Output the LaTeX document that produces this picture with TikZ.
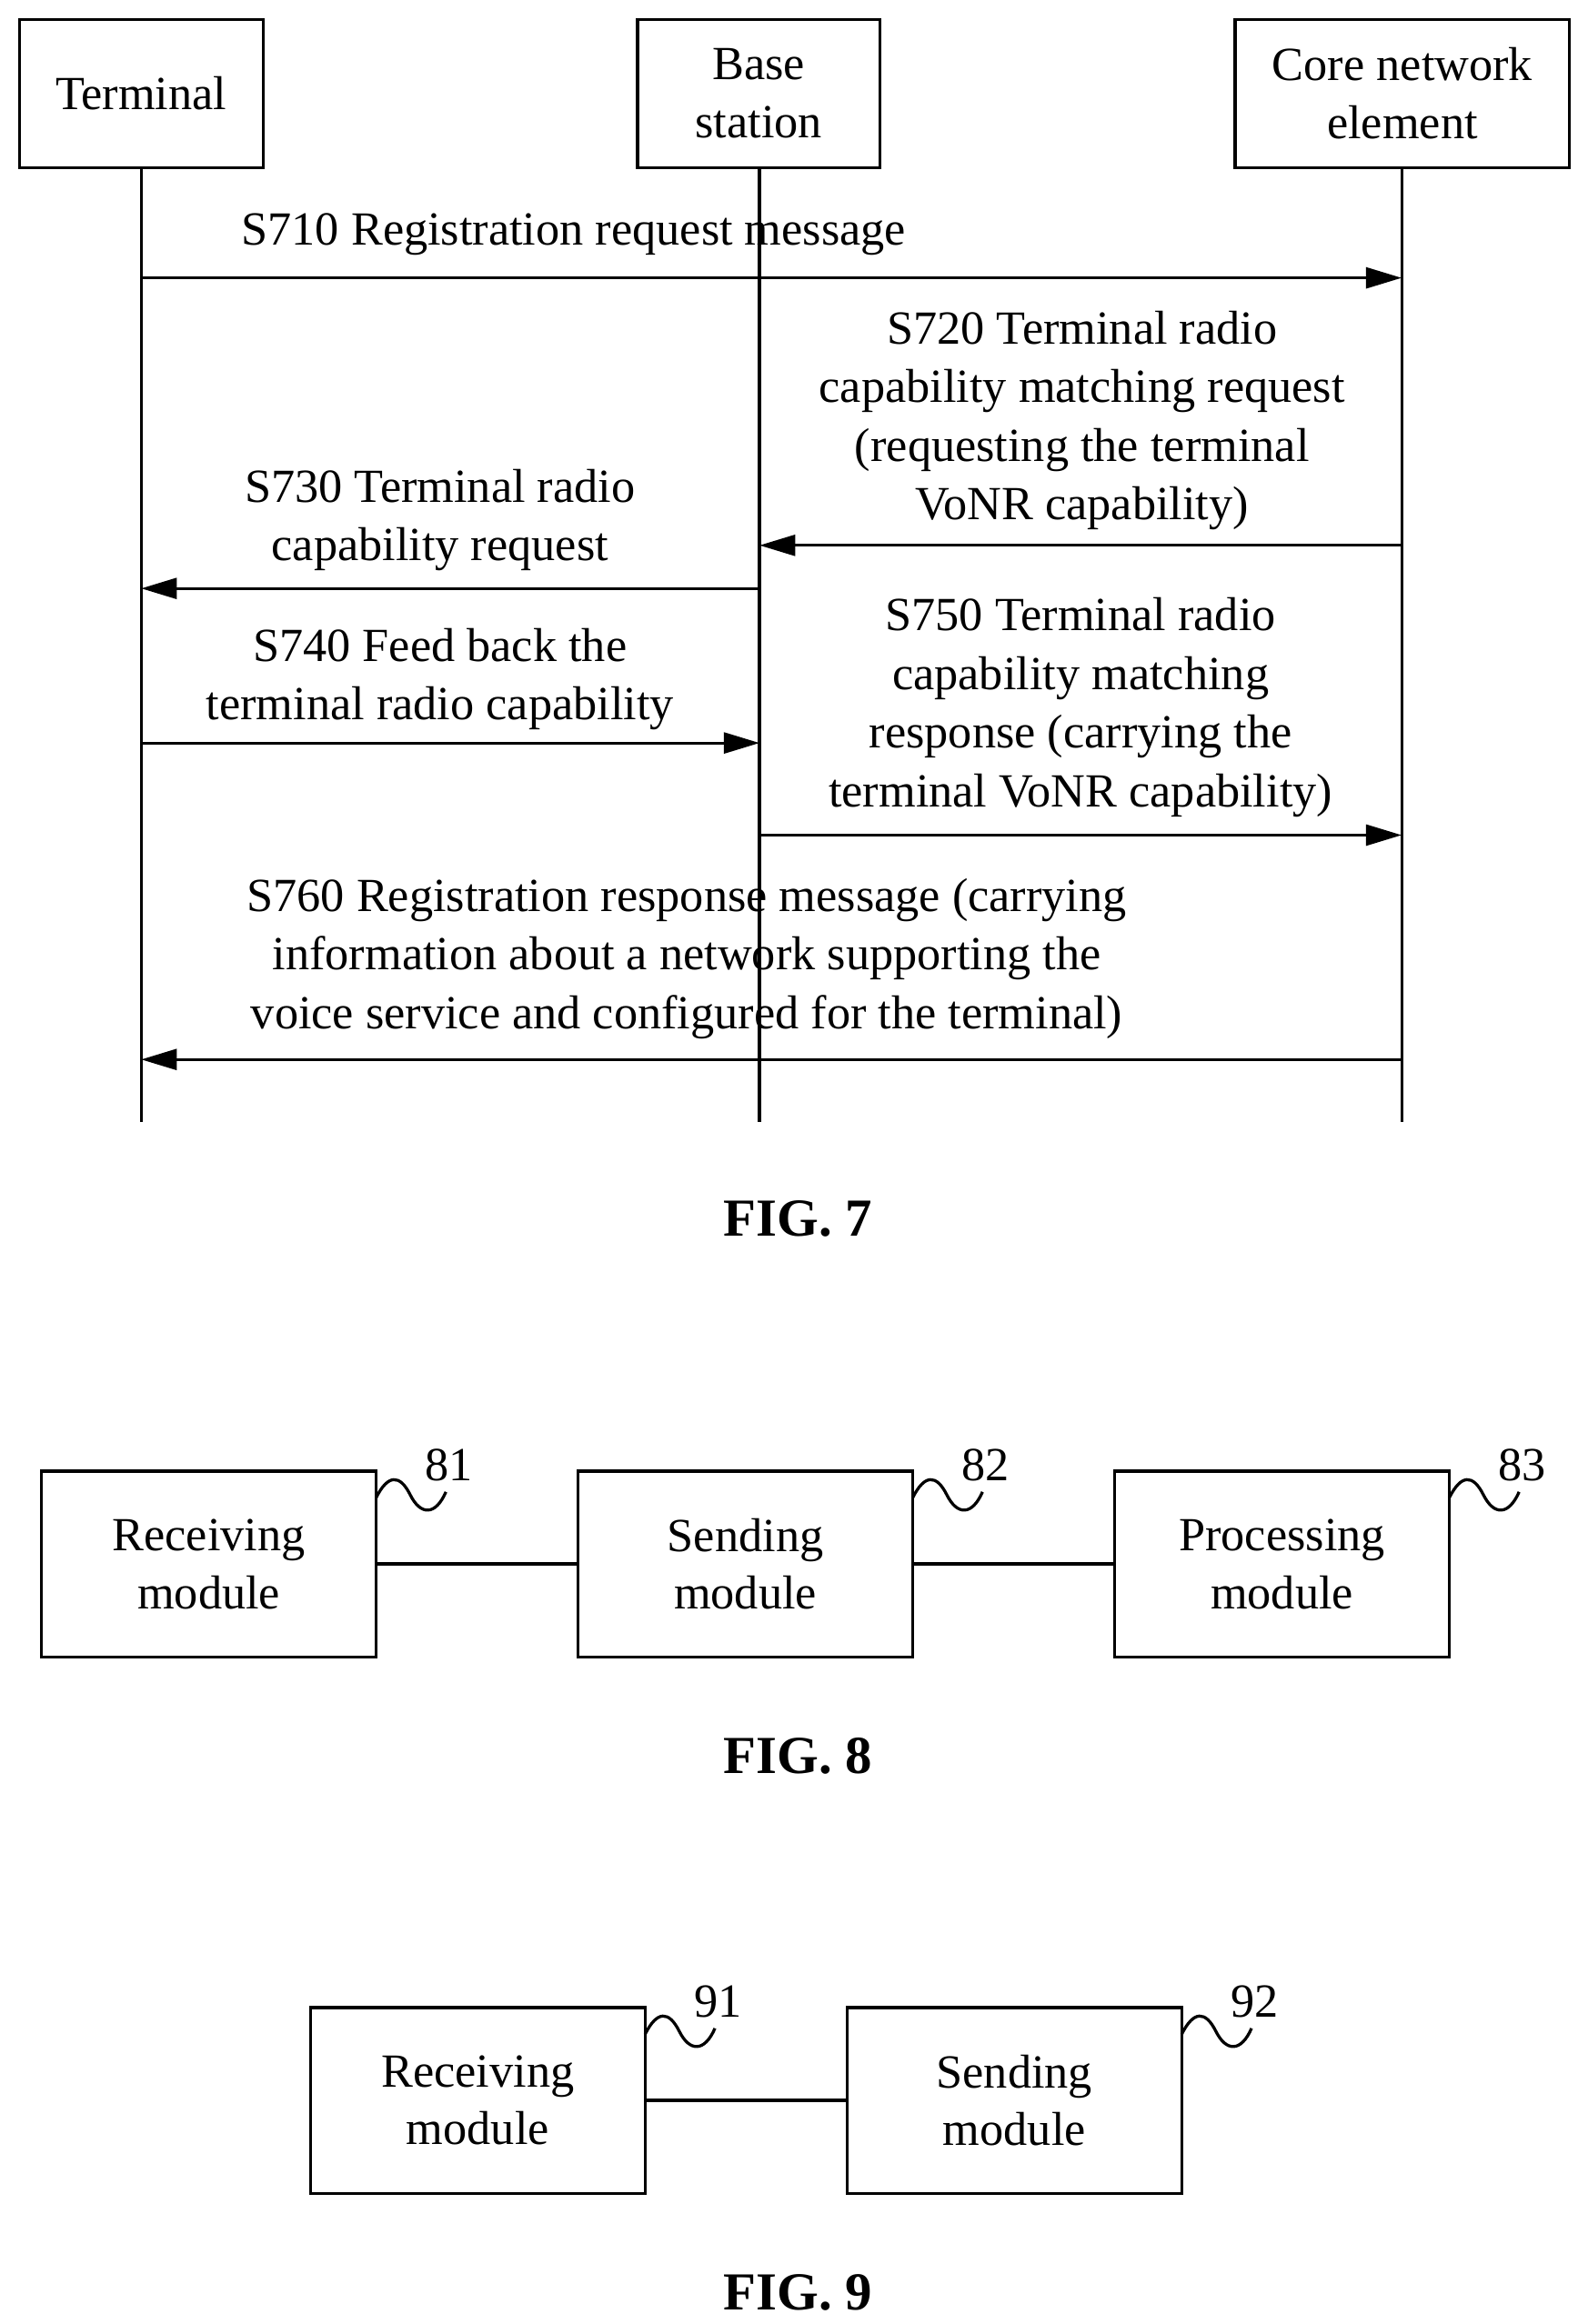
\documentclass[tikz,border=0pt]{standalone}
\usepackage{fontspec}
\setmainfont{Liberation Serif}
\usetikzlibrary{arrows.meta}
\begin{document}
\begin{tikzpicture}[x=1pt,y=-1pt,
  box/.style={draw,line width=2pt,inner sep=0pt,align=center,font=\fontsize{32}{39}\selectfont},
  txt/.style={align=center,font=\fontsize{32}{39.5}\selectfont,inner sep=0pt},
  fig/.style={font=\fontsize{36}{40}\selectfont\bfseries},
  life/.style={line width=2pt},
  msg/.style={line width=2pt,-{Triangle[length=24pt,width=14pt]}},
  wire/.style={line width=2pt},
  sq/.style={line width=2pt}]
\useasboundingbox (0,0) rectangle (1068,1564);
% FIG 7
\node[box,minimum width=164pt,minimum height=100pt] (T) at (95,63) {Terminal};
\node[box,minimum width=163pt,minimum height=100pt] (B) at (510.5,63) {Base\\station};
\node[box,minimum width=225pt,minimum height=100pt] (C) at (943.5,63) {Core network\\element};
\coordinate (Te) at (95,755); \coordinate (Be) at (511,755); \coordinate (Ce) at (943,755);
\draw[life] (T.south -| Te) -- (Te);
\draw[life] (B.south -| Be) -- (Be);
\draw[life] (C.south -| Ce) -- (Ce);
\coordinate (a1) at (95,187); \coordinate (a1e) at (943,187);
\draw[msg] (a1) -- (a1e);
\node[txt] (l1) at (386,158) {S710 Registration request message};
\coordinate (a2) at (943,367); \coordinate (a2e) at (511,367);
\draw[msg] (a2) -- (a2e);
\node[txt] (l2) at (728,283) {S720 Terminal radio\\capability matching request\\(requesting the terminal\\VoNR capability)};
\coordinate (a3) at (511,396); \coordinate (a3e) at (95,396);
\draw[msg] (a3) -- (a3e);
\node[txt] (l3) at (296,350) {S730 Terminal radio\\capability request};
\coordinate (a4) at (95,500); \coordinate (a4e) at (511,500);
\draw[msg] (a4) -- (a4e);
\node[txt] (l4) at (296,457) {S740 Feed back the\\terminal radio capability};
\coordinate (a5) at (511,562); \coordinate (a5e) at (943,562);
\draw[msg] (a5) -- (a5e);
\node[txt] (l5) at (727,476) {S750 Terminal radio\\capability matching\\response (carrying the\\terminal VoNR capability)};
\coordinate (a6) at (943,713); \coordinate (a6e) at (95,713);
\draw[msg] (a6) -- (a6e);
\node[txt] (l6) at (462,645) {S760 Registration response message (carrying\\information about a network supporting the\\voice service and configured for the terminal)};
\node[fig] (f7) at (537,820) {FIG. 7};
% FIG 8
\node[box,minimum width=225pt,minimum height=125pt] (R8) at (140.5,1052.5) {Receiving\\module};
\node[box,minimum width=225pt,minimum height=125pt] (S8) at (501.5,1052.5) {Sending\\module};
\node[box,minimum width=225pt,minimum height=125pt] (P8) at (862.5,1052.5) {Processing\\module};
\draw[wire] (R8.east) -- (S8.west);
\draw[wire] (S8.east) -- (P8.west);
\foreach \n/\x/\y/\l in {n81/253/990/81, n82/614/990/82, n83/975/990/83, n91/434/1351/91, n92/795/1351/92}{
  \draw[sq] (\x,\y+18) .. controls (\x+8,\y+2) and (\x+16,\y+2) .. (\x+23,\y+16) .. controls (\x+30,\y+30) and (\x+40,\y+30) .. (\x+47,\y+14);
  \node[txt] (\n) at (\x+49,\y-4) {\l};
}
\node[fig] (f8) at (537,1182) {FIG. 8};
% FIG 9
\node[box,minimum width=225pt,minimum height=125pt] (R9) at (321.5,1413.5) {Receiving\\module};
\node[box,minimum width=225pt,minimum height=125pt] (S9) at (682.5,1413.5) {Sending\\module};
\draw[wire] (R9.east) -- (S9.west);
\node[fig] (f9) at (537,1543) {FIG. 9};
\end{tikzpicture}
\end{document}
